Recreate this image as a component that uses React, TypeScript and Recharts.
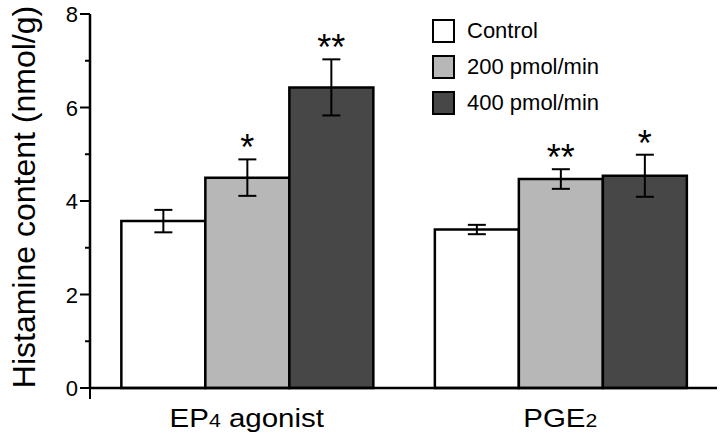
import { BarChart, Bar, XAxis, YAxis, ErrorBar, LabelList, Legend } from "recharts";

const categories = ["EP4 agonist", "PGE2"];
const seriesNames = ["Control", "200 pmol/min", "400 pmol/min"];
const control = [3.57, 3.39];
const low = [4.5, 4.47];
const high = [6.43, 4.54];
const controlErr = [0.24, 0.1];
const lowErr = [0.39, 0.21];
const highErr = [0.6, 0.45];
const lowStars = ["*", "**"];
const highStars = ["**", "*"];
const yTicks = [0, 1, 2, 3, 4, 5, 6, 7, 8];
const edgeTicks = [0, 1, 2];

const FONT = '"Liberation Sans", Arial, sans-serif';
const colors = ["#ffffff", "#b7b7b7", "#474747"];

const data = categories.map((name, i) => ({
  name,
  control: control[i],
  low: low[i],
  high: high[i],
  controlErr: controlErr[i],
  lowErr: lowErr[i],
  highErr: highErr[i],
  lowStars: lowStars[i],
  highStars: highStars[i],
}));

function YTick(props: any) {
  const { x, y, payload } = props;
  const major = payload.value % 2 === 0;
  return (
    <g>
      <line x1={x - (major ? 10 : 5)} x2={x} y1={y} y2={y} stroke="#000" strokeWidth={2} />
      {major && (
        <text x={x - 12} y={y} dy={8} textAnchor="end" fontSize={22} fontFamily={FONT} fill="#000">
          {payload.value}
        </text>
      )}
    </g>
  );
}

// labels in the figure are a bit stretched sideways
function CatTick(props: any) {
  const { x, y, payload } = props;
  const parts = String(payload.value).split(/(\d)/).filter((p) => p !== "");
  return (
    <g transform={`translate(${x} ${y + 39}) scale(1.18 1)`}>
      <text x={0} y={0} textAnchor="middle" fontSize={25} fontFamily={FONT} fill="#000">
        {parts.map((p, i) =>
          /^\d$/.test(p) ? (
            <tspan key={i} fontSize={18}>
              {p}
            </tspan>
          ) : (
            <tspan key={i}>{p}</tspan>
          )
        )}
      </text>
    </g>
  );
}

function EmptyTick() {
  return <g />;
}

function starLabel(vals: number[], errs: number[]) {
  return (props: any) => {
    const { x, y, width, height, value, index } = props;
    if (!value) return null;
    const pxPerUnit = height / vals[index];
    const top = y - errs[index] * pxPerUnit;
    return (
      <text x={x + width / 2} y={top + 1} textAnchor="middle" fontSize={36} fontFamily={FONT} fill="#000">
        {value}
      </text>
    );
  };
}

function LegendBox() {
  return (
    <div style={{ fontFamily: FONT, fontSize: 22, color: "#000" }}>
      {seriesNames.map((n, i) => (
        <div key={n} style={{ display: "flex", alignItems: "center", height: 36 }}>
          <div
            style={{
              width: 19,
              height: 20,
              background: colors[i],
              border: "2.5px solid #000",
              marginRight: 12,
            }}
          />
          <span>{n}</span>
        </div>
      ))}
    </div>
  );
}

function YLabel(props: any) {
  const { viewBox } = props;
  const cx = viewBox.x + 24;
  const cy = viewBox.y + viewBox.height / 2 - 4;
  return (
    <text
      x={cx}
      y={cy}
      transform={`rotate(-90 ${cx} ${cy})`}
      textAnchor="middle"
      dominantBaseline="central"
      fontSize={32}
      fontFamily={FONT}
      fill="#000"
    >
      Histamine content (nmol/g)
    </text>
  );
}

export default function App() {
  return (
    <div style={{ position: "absolute", left: 0, top: 0, width: 720, height: 438, background: "#fff" }}>
      <BarChart
        width={720}
        height={438}
        data={data}
        margin={{ top: 14, right: 3, bottom: 0, left: 0 }}
        barCategoryGap="10%"
        barGap={0}
      >
        <XAxis
          dataKey="name"
          axisLine={{ stroke: "#000", strokeWidth: 2.5 }}
          tickLine={false}
          tickSize={0}
          tickMargin={0}
          tick={CatTick}
          height={1}
        />
        <XAxis
          xAxisId="edge"
          type="number"
          domain={[0, 2]}
          ticks={edgeTicks}
          axisLine={false}
          tickLine={{ stroke: "#000", strokeWidth: 2 }}
          tickSize={10}
          tick={EmptyTick}
          height={49}
        />
        <YAxis
          domain={[0, 8]}
          ticks={yTicks}
          interval={0}
          axisLine={{ stroke: "#000", strokeWidth: 2.5 }}
          tickLine={false}
          tickSize={0}
          tickMargin={0}
          tick={YTick}
          width={90}
          label={YLabel}
        />
        <Legend
          layout="vertical"
          align="center"
          verticalAlign="middle"
          content={LegendBox}
          wrapperStyle={{ position: "absolute", left: 432, top: 13, width: 220 }}
        />
        <Bar dataKey="control" fill={colors[0]} stroke="#000" strokeWidth={2.5} isAnimationActive={false}>
          <ErrorBar dataKey="controlErr" width={9} stroke="#000" strokeWidth={2} isAnimationActive={false} />
        </Bar>
        <Bar dataKey="low" fill={colors[1]} stroke="#000" strokeWidth={2.5} isAnimationActive={false}>
          <ErrorBar dataKey="lowErr" width={9} stroke="#000" strokeWidth={2} isAnimationActive={false} />
          <LabelList dataKey="lowStars" content={starLabel(low, lowErr)} />
        </Bar>
        <Bar dataKey="high" fill={colors[2]} stroke="#000" strokeWidth={2.5} isAnimationActive={false}>
          <ErrorBar dataKey="highErr" width={9} stroke="#000" strokeWidth={2} isAnimationActive={false} />
          <LabelList dataKey="highStars" content={starLabel(high, highErr)} />
        </Bar>
      </BarChart>
    </div>
  );
}
